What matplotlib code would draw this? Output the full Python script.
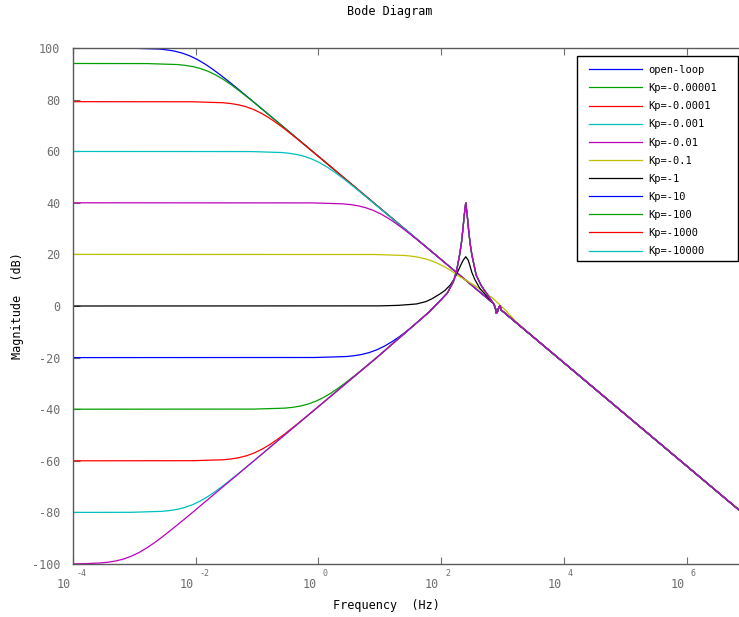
import matplotlib.pyplot as plt
import numpy as np
from matplotlib import transforms
from matplotlib.patches import Rectangle
from matplotlib.ticker import NullLocator

# frequencies are stored as log10(Hz), magnitudes in dB

# high-frequency roll-off shared by the traces, with the small notch near 800 Hz
tail_logf = [2.85, 2.88, 2.90, 2.92, 2.94, 2.96, 2.98, 3.0, 3.5, 4.0, 5.0, 6.0, 7.0]
tail_db = [1.0, -0.5, -2.8, -2.0, -0.5, 0.1, -1.6, -2.0, -12.0, -22.0, -42.0, -62.0, -82.0]

# resonance peak shared by the Kp <= -10 traces
peak_logf = [1.5, 1.8, 2.0, 2.1, 2.2, 2.25, 2.3, 2.33, 2.355, 2.375, 2.39, 2.40,
             2.41, 2.425, 2.445, 2.47, 2.50, 2.57, 2.65, 2.75]
peak_db = [-8.6, -2.4, 2.5, 5.0, 9.5, 13.5, 19.8, 24.5, 30.0, 35.0, 38.0, 40.0,
           38.0, 35.0, 30.0, 24.5, 19.8, 12.0, 8.0, 4.5]

ol_logf = [-4, -3.1, -2.6, -2.475, -2.35, -2.225, -2.1, -1.975, -1.85, -1.725, -1.6, -1.475,
           -1.35, -1.1, -0.5, 0.5, 1.5, 2.5, 2.8]
ol_db = [100, 99.96, 99.59, 99.29, 98.81, 98.06, 96.99, 95.56, 93.81, 91.79, 89.59, 87.26,
         84.87, 79.96, 68.0, 48.0, 28.0, 8.0, 2.0]

k5_logf = [-4, -2.8, -2.3, -2.175, -2.05, -1.925, -1.8, -1.675, -1.55, -1.425, -1.3, -1.175,
           -1.05, -0.8, 0.0, 1.0, 2.0, 2.5, 2.8]
k5_db = [94, 93.96, 93.59, 93.29, 92.81, 92.06, 90.99, 89.56, 87.81, 85.79, 83.59, 81.26,
         78.87, 73.96, 58.0, 38.0, 18.0, 8.0, 2.0]

k4_logf = [-4, -2.06, -1.56, -1.435, -1.31, -1.185, -1.06, -0.935, -0.81, -0.685, -0.56, -0.435,
           -0.31, -0.06, 0.5, 1.5, 2.5, 2.8]
k4_db = [79.2, 79.16, 78.79, 78.49, 78.01, 77.26, 76.19, 74.76, 73.01, 70.99, 68.79, 66.46,
         64.07, 59.16, 48.0, 28.0, 8.0, 2.0]

k3_logf = [-4, -1.1, -0.6, -0.475, -0.35, -0.225, -0.1, 0.025, 0.15, 0.275, 0.4, 0.525,
           0.65, 0.9, 1.5, 2.5, 2.8]
k3_db = [59.9, 59.86, 59.49, 59.19, 58.71, 57.96, 56.89, 55.46, 53.71, 51.69, 49.49, 47.16,
         44.77, 39.86, 28.0, 8.0, 2.0]

k2_logf = [-4, -0.1, 0.4, 0.525, 0.65, 0.775, 0.9, 1.025, 1.15, 1.275, 1.4, 1.525,
           1.65, 1.9, 2.5, 2.8]
k2_db = [40, 39.96, 39.59, 39.29, 38.81, 38.06, 36.99, 35.56, 33.81, 31.79, 29.59, 27.26,
         24.87, 19.96, 8.0, 2.0]

k1_logf = [-4, 0.9, 1.4, 1.525, 1.65, 1.775, 1.9, 2.025, 2.15, 2.3, 2.5, 2.7, 2.85, 2.95,
           3.05, 3.2, 3.5, 4.0, 5.0, 6.0, 7.0]
k1_db = [20, 19.96, 19.59, 19.29, 18.81, 18.06, 16.99, 15.56, 13.9, 11.4, 8.6, 5.6, 2.8, 0.6,
         -1.7, -5.6, -12.0, -22.0, -42.0, -62.0, -82.0]

k0_logf = [-4, 1.0, 1.3, 1.5, 1.6, 1.75, 1.85, 1.975, 2.06, 2.15, 2.22, 2.27, 2.32, 2.36,
           2.40, 2.44, 2.47, 2.50, 2.55, 2.63, 2.75]
k0_db = [0, 0.05, 0.25, 0.6, 0.8, 1.7, 2.8, 4.6, 6.0, 8.2, 10.8, 13.3, 15.9, 17.8,
         19.1, 17.8, 15.5, 13.0, 10.2, 6.8, 3.6]

kp10_logf = [-4, -0.05, 0.45, 0.575, 0.7, 0.825, 0.95, 1.075, 1.2, 1.325]
kp10_db = [-20, -19.96, -19.59, -19.29, -18.81, -18.06, -16.99, -15.56, -13.81, -11.79]

kp100_logf = [-4, -1.05, -0.55, -0.425, -0.3, -0.175, -0.05, 0.075, 0.2, 0.325, 0.45, 0.7, 0.95]
kp100_db = [-40, -39.96, -39.59, -39.29, -38.81, -38.06, -36.99, -35.56, -33.81, -31.79,
            -29.59, -24.87, -19.96]

kp1000_logf = [-4, -2.05, -1.55, -1.425, -1.3, -1.175, -1.05, -0.925, -0.8, -0.675, -0.55,
               -0.3, -0.05, 0.95]
kp1000_db = [-60, -59.96, -59.59, -59.29, -58.81, -58.06, -56.99, -55.56, -53.81, -51.79,
             -49.59, -44.87, -39.96, -20.0]

kp1e4_logf = [-4, -3.05, -2.55, -2.425, -2.3, -2.175, -2.05, -1.925, -1.8, -1.675, -1.55,
              -1.3, -1.05, 0.95]
kp1e4_db = [-80, -79.96, -79.59, -79.29, -78.81, -78.06, -76.99, -75.56, -73.81, -71.79,
            -69.59, -64.87, -59.96, -20.0]

kp1e5_logf = [-4, -3.8, -3.55, -3.425, -3.3, -3.175, -3.05, -2.925, -2.8, -2.675, -2.55,
              -2.3, -2.05, 0.95]
kp1e5_db = [-99.95, -99.87, -99.59, -99.29, -98.81, -98.06, -96.99, -95.56, -93.81, -91.79,
            -89.59, -84.87, -79.96, -20.0]

labels = ['open-loop', 'Kp=-0.00001', 'Kp=-0.0001', 'Kp=-0.001', 'Kp=-0.01', 'Kp=-0.1',
          'Kp=-1', 'Kp=-10', 'Kp=-100', 'Kp=-1000', 'Kp=-10000', 'Kp=-100000']
xtick_exp = [-4, -2, 0, 2, 4, 6]
yticks = list(range(-100, 101, 20))

colors = ['#0000ff', '#00a000', '#ff0000', '#00bfbf', '#bf00bf', '#bfbf00', '#000000',
          '#0000ff', '#00a000', '#ff0000', '#00bfbf', '#bf00bf']

curves = [
    (ol_logf + tail_logf, ol_db + tail_db),
    (k5_logf + tail_logf, k5_db + tail_db),
    (k4_logf + tail_logf, k4_db + tail_db),
    (k3_logf + tail_logf, k3_db + tail_db),
    (k2_logf + tail_logf, k2_db + tail_db),
    (k1_logf, k1_db),
    (k0_logf + tail_logf, k0_db + tail_db),
    (kp10_logf + peak_logf + tail_logf, kp10_db + peak_db + tail_db),
    (kp100_logf + peak_logf + tail_logf, kp100_db + peak_db + tail_db),
    (kp1000_logf + peak_logf + tail_logf, kp1000_db + peak_db + tail_db),
    (kp1e4_logf + peak_logf + tail_logf, kp1e4_db + peak_db + tail_db),
    (kp1e5_logf + peak_logf + tail_logf, kp1e5_db + peak_db + tail_db),
]

FONT = 'DejaVu Sans Mono'
GRAY = '#6e6e6e'
W, H = 739, 617

fig = plt.figure(figsize=(W / 100, H / 100), dpi=100)
ax = fig.add_axes([73 / W, 53 / H, 675 / W, 516 / H])

handles = []
for (logf, db), color, label in zip(curves, colors, labels):
    line, = ax.semilogx(10.0 ** np.array(logf), db, color=color, lw=0.9, label=label)
    handles.append(line)

ax.set_xlim(1e-4, 1e7)
ax.set_ylim(-100, 100)
ax.set_xticks([10.0 ** e for e in xtick_exp])
ax.xaxis.set_minor_locator(NullLocator())
ax.set_xticklabels([])
ax.set_yticks(yticks)
ax.set_yticklabels([str(v) for v in yticks], family=FONT, fontsize=8.5, color=GRAY)
ax.tick_params(direction='in', length=5, top=True, right=True, color=GRAY, width=0.8)
ax.tick_params(axis='y', pad=9)
for sp in ax.spines.values():
    sp.set_color('#5a5a5a')
    sp.set_linewidth(1.0)

# x tick labels in the "10" + raised exponent style
for e in xtick_exp:
    base_tr = transforms.offset_copy(ax.get_xaxis_transform(), fig=fig, x=-2, y=-21, units='dots')
    exp_tr = transforms.offset_copy(ax.get_xaxis_transform(), fig=fig, x=4, y=-10, units='dots')
    ax.text(10.0 ** e, 0, '10', transform=base_tr, ha='right', va='center',
            family=FONT, fontsize=8.5, color=GRAY)
    ax.text(10.0 ** e, 0, str(e), transform=exp_tr, ha='left', va='center',
            family=FONT, fontsize=6, color=GRAY)

fig.text(390 / W, 1 - 12 / H, 'Bode Diagram', ha='center', va='center', family=FONT, fontsize=8.5)
fig.text(386 / W, 1 - 606 / H, 'Frequency  (Hz)', ha='center', va='center', family=FONT, fontsize=8.5)
fig.text(18 / W, 1 - 306 / H, 'Magnitude  (dB)', ha='center', va='center', rotation=90,
         family=FONT, fontsize=8.5)

# legend: frame drawn separately so it can be wider than its contents
ax.add_patch(Rectangle((577 / W, 1 - 261 / H), 161 / W, 205 / H, transform=fig.transFigure,
                       facecolor='white', edgecolor='black', lw=1.0, zorder=4, clip_on=False))
leg = ax.legend(handles[:11], labels[:11], loc='upper left',
                bbox_to_anchor=(589 / W, 1 - 65 / H), bbox_transform=fig.transFigure,
                frameon=False, borderpad=0, borderaxespad=0, handlelength=5.1,
                handletextpad=0.55, labelspacing=0.78, prop={'family': FONT, 'size': 7.5})
leg.set_zorder(5)

fig.savefig('out.png', dpi=100)
